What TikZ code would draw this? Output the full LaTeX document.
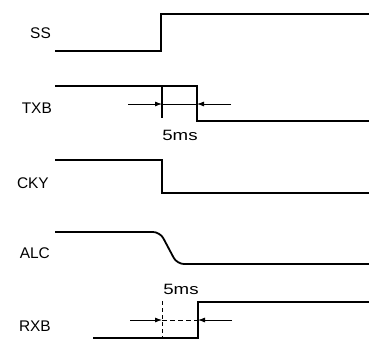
\documentclass[tikz,border=0pt]{standalone}
\usepackage{fontspec}
\setmainfont{Liberation Sans}
\usetikzlibrary{arrows.meta}
\begin{document}
\begin{tikzpicture}[x=1bp,y=-1bp,
  sig/.style={line width=1.8bp,line join=miter},
  dim/.style={line width=0.8bp},
  dimarrow/.style={line width=0.8bp,-{Latex[length=7bp,width=5bp]}},
  lbl/.style={font=\fontsize{15.5}{17}\selectfont,anchor=east,inner sep=0pt},
  mslbl/.style={font=\fontsize{15}{17}\selectfont,inner sep=0pt}]
\useasboundingbox (0,0) rectangle (369,340);
% labels
\node[lbl] (ss) at (51,33) {SS};
\node[lbl] (txb) at (52,108) {TXB};
\node[lbl] (cky) at (49,183) {CKY};
\node[lbl] (alc) at (50,253) {ALC};
\node[lbl] (rxb) at (51,326) {RXB};
% SS
\coordinate (ss0) at (55,51);
\coordinate (ss1) at (161,51);
\coordinate (ss2) at (161,14);
\coordinate (ss3) at (369,14);
\draw[sig] (ss0) -- (ss1) -- (ss2) -- (ss3);
% TXB
\coordinate (tx0) at (55,86);
\coordinate (tx1) at (197,86);
\coordinate (tx2) at (197,121);
\coordinate (tx3) at (369,121);
\draw[sig] (tx0) -- (tx1) -- (tx2) -- (tx3);
\coordinate (txm0) at (162,86);
\coordinate (txm1) at (162,118);
\draw[line width=1.2bp] (txm0) -- (txm1);
\coordinate (txa0) at (128,104);
\coordinate (txa1) at (162,104);
\coordinate (txa2) at (197,104);
\coordinate (txa3) at (231,104);
\draw[dim] (txa1) -- (txa2);
\draw[dimarrow] (txa0) -- (txa1);
\draw[dimarrow] (txa3) -- (txa2);
\node[mslbl] (ms1) at (180,135) {\scalebox{1.25}[1]{5ms}};
% CKY
\coordinate (ck0) at (55,160);
\coordinate (ck1) at (162,160);
\coordinate (ck2) at (162,193);
\coordinate (ck3) at (369,193);
\draw[sig] (ck0) -- (ck1) -- (ck2) -- (ck3);
% ALC
\coordinate (al0) at (55,232);
\coordinate (al1) at (160,232);
\coordinate (al2) at (177,264);
\coordinate (al3) at (369,264);
\draw[sig,rounded corners=7bp] (al0) -- (al1) -- (al2) -- (al3);
% RXB
\coordinate (rx0) at (93,338);
\coordinate (rx1) at (198,338);
\coordinate (rx2) at (198,302);
\coordinate (rx3) at (369,302);
\draw[sig] (rx0) -- (rx1) -- (rx2) -- (rx3);
\coordinate (rxm0) at (162,301);
\coordinate (rxm1) at (162,338);
\draw[line width=1bp,dash pattern=on 4bp off 3bp] (rxm0) -- (rxm1);
\coordinate (rxa0) at (130,320);
\coordinate (rxa1) at (162,320);
\coordinate (rxa2) at (198,320);
\coordinate (rxa3) at (232,320);
\draw[dim,dash pattern=on 5bp off 3bp] (rxa1) -- (rxa2);
\draw[dimarrow] (rxa0) -- (rxa1);
\draw[dimarrow] (rxa3) -- (rxa2);
\node[mslbl] (ms2) at (181,289) {\scalebox{1.25}[1]{5ms}};
\end{tikzpicture}
\end{document}
